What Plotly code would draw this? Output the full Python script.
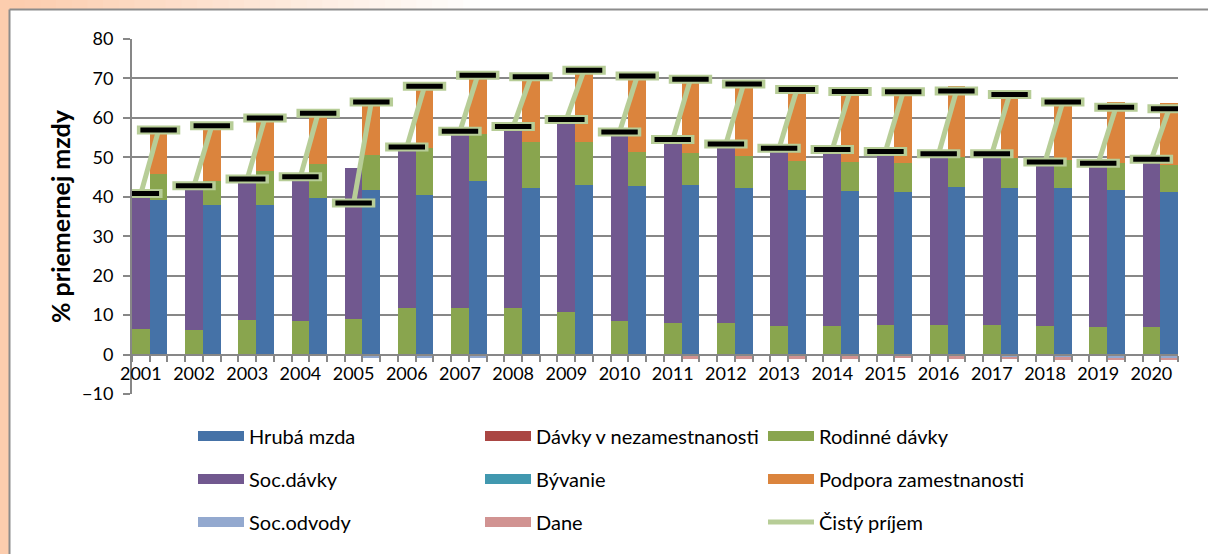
import plotly.graph_objects as go

# --- data (% priemernej mzdy) ---
years = list(range(2001, 2021))

# lavy stlpec: nezamestnany
rodinne_davky = [6.5, 6.3, 8.7, 8.6, 9.0, 11.8, 11.9, 11.9, 10.8, 8.6,
                 8.1, 8.0, 7.3, 7.3, 7.5, 7.5, 7.5, 7.3, 7.0, 6.9]
soc_davky = [34.3, 36.5, 35.8, 36.5, 38.4, 40.8, 44.7, 45.9, 48.8, 47.8,
             46.4, 45.4, 45.0, 44.7, 44.0, 43.4, 43.4, 41.5, 41.5, 42.6]
cisty_nezam = [40.8, 42.8, 44.5, 45.1, 38.4, 52.6, 56.6, 57.8, 59.6, 56.4,
               54.5, 53.4, 52.3, 52.0, 51.5, 50.9, 50.9, 48.8, 48.5, 49.5]

# pravy stlpec: zamestnany
hruba_mzda = [39.2, 37.8, 37.8, 39.6, 41.7, 40.5, 43.9, 42.1, 43.1, 42.8,
              43.1, 42.3, 41.8, 41.5, 41.1, 42.6, 42.3, 42.1, 41.6, 41.1]
podpora_zam = [11.2, 13.9, 13.5, 13.0, 14.1, 16.5, 16.1, 16.5, 18.7, 19.5,
               19.8, 19.3, 19.2, 19.0, 18.9, 18.0, 17.3, 15.7, 15.5, 15.7]
soc_odvody = [0, 0, 0, 0, -0.8, -0.8, -0.9, 0, 0, 0,
              0, 0, 0, 0, 0, -0.4, -0.5, -0.8, -1.0, -1.0]
dane = [0, 0, 0, 0, 0, 0, 0, 0, 0, 0,
        -1.2, -1.2, -1.1, -1.1, -0.9, -0.8, -0.7, -0.5, -0.4, -0.4]
cisty_zam = [56.9, 58.0, 60.0, 61.2, 64.0, 68.0, 70.8, 70.4, 72.1, 70.6,
             69.8, 68.6, 67.2, 66.7, 66.6, 66.8, 65.9, 64.0, 62.7, 62.3]

davky_nezam = [0] * len(years)
byvanie = [0] * len(years)
zeros = [0] * len(years)

# --- layout geometry ---
W, H = 1208, 554
ML, MR, MT, MB = 132, 30, 39, 160
FONT = "Lato"
GRID = "#878787"


def px(x):
    return (x - ML) / (W - ML - MR)


def py(y):
    return (H - MB - y) / (H - MT - MB)


n = len(years)
x_left = [3 * i + 0.5 for i in range(n)]
x_right = [3 * i + 1.5 for i in range(n)]
xs = x_left + x_right

fig = go.Figure()

series = [
    ("Hrubá mzda", zeros, hruba_mzda, "#4572A7", "legend"),
    ("Dávky v nezamestnanosti", davky_nezam, davky_nezam, "#AA4643", "legend2"),
    ("Rodinné dávky", rodinne_davky, rodinne_davky, "#89A54E", "legend3"),
    ("Soc.dávky", soc_davky, zeros, "#71588F", "legend"),
    ("Bývanie", byvanie, byvanie, "#4198AF", "legend2"),
    ("Podpora zamestnanosti", zeros, podpora_zam, "#DB843D", "legend3"),
    ("Soc.odvody", zeros, soc_odvody, "#93A9CF", "legend"),
    ("Dane", zeros, dane, "#D19392", "legend2"),
]

for name, left, right, color, leg in series:
    fig.add_trace(go.Bar(x=xs, y=left + right, width=1, name=name,
                         marker=dict(color=color, line=dict(width=0)),
                         showlegend=False))
    # legend entry (wide colour block)
    fig.add_trace(go.Scatter(x=[None], y=[None], mode="lines", name=name,
                             line=dict(color=color, width=14),
                             legend=leg, legendgroup=name))

# cisty prijem - segment per year
lx, ly = [], []
for i in range(n):
    lx += [x_left[i], x_right[i], None]
    ly += [cisty_nezam[i], cisty_zam[i], None]

fig.add_trace(go.Scatter(x=lx, y=ly, mode="lines", name="Čistý príjem",
                         line=dict(color="#B7CD97", width=5),
                         legend="legend3", legendgroup="Čistý príjem",
                         connectgaps=False))
fig.add_trace(go.Scatter(x=lx, y=ly, mode="markers", showlegend=False,
                         marker=dict(symbol="line-ew", size=31,
                                     line=dict(color="#B7CD97", width=9))))
fig.add_trace(go.Scatter(x=lx, y=ly, mode="markers", showlegend=False,
                         marker=dict(symbol="line-ew", size=26,
                                     line=dict(color="#000000", width=5))))

# background: peach frame + white chart box
shapes = [
    dict(type="rect", xref="paper", yref="paper", x0=px(0), x1=px(9.5),
         y0=py(H), y1=py(0), fillcolor="#FCCDAE", line_width=0, layer="below"),
]
steps = 30
for k in range(steps):
    t = k / steps
    r = int(252 + (255 - 252) * t)
    g = int(205 + (255 - 205) * t)
    b = int(174 + (255 - 174) * t)
    shapes.append(dict(type="rect", xref="paper", yref="paper",
                       x0=px(9 + 470 * t), x1=px(9 + 470 * (k + 1) / steps + 1),
                       y0=py(9.5), y1=py(0), fillcolor=f"rgb({r},{g},{b})",
                       line_width=0, layer="below"))
shapes.append(dict(type="line", xref="paper", yref="paper", x0=px(9.5), x1=px(W),
                   y0=py(9.5), y1=py(9.5), line=dict(color="#8C8C8C", width=2),
                   layer="below"))
shapes.append(dict(type="line", xref="paper", yref="paper", x0=px(9.5), x1=px(9.5),
                   y0=py(9.5), y1=py(H), line=dict(color="#8C8C8C", width=2),
                   layer="below"))

# legend bottom kept >= 12 px above the page edge so margins are not pushed
legend_common = dict(xanchor="left", yanchor="bottom", orientation="v",
                     bgcolor="rgba(0,0,0,0)", itemwidth=46, traceorder="grouped",
                     tracegroupgap=14, font=dict(family=FONT, size=20, color="#000"))
leg_y = py(541.5)

fig.update_layout(
    width=W, height=H,
    margin=dict(l=ML, r=MR, t=MT, b=MB),
    paper_bgcolor="white",
    plot_bgcolor="rgba(0,0,0,0)",
    barmode="relative",
    bargap=0,
    font=dict(family=FONT, size=18, color="#000"),
    shapes=shapes,
    legend=dict(x=px(193), y=leg_y, **legend_common),
    legend2=dict(x=px(480), y=leg_y, **legend_common),
    legend3=dict(x=px(763), y=leg_y, **legend_common),
    xaxis=dict(
        range=[0, 3 * n - 1],
        anchor="free",
        position=10 / 90,
        automargin=False,
        tickmode="array",
        tickvals=x_left,
        ticktext=[str(y) for y in years],
        ticks="",
        showgrid=False,
        zeroline=False,
        showline=True,
        linecolor=GRID,
        linewidth=2,
        ticklabelstandoff=3,
        tickfont=dict(family=FONT, size=18),
        minor=dict(tickmode="array", tickvals=list(range(3 * n)),
                   ticks="outside", ticklen=6, tickcolor=GRID, tickwidth=1.5,
                   showgrid=False),
    ),
    yaxis=dict(
        range=[-10, 80],
        dtick=10,
        automargin=False,
        ticks="outside",
        ticklen=7,
        tickcolor=GRID,
        tickwidth=1.5,
        showgrid=True,
        gridcolor=GRID,
        gridwidth=1.5,
        zeroline=False,
        showline=True,
        linecolor=GRID,
        linewidth=2,
        ticklabelstandoff=6,
        tickfont=dict(family=FONT, size=18),
        title=dict(text="% priemernej mzdy", standoff=4,
                   font=dict(family=FONT, size=25, weight="bold")),
    ),
)

fig.write_html("out.html", config={"displayModeBar": False},
               post_script="document.body.style.margin='0';")
